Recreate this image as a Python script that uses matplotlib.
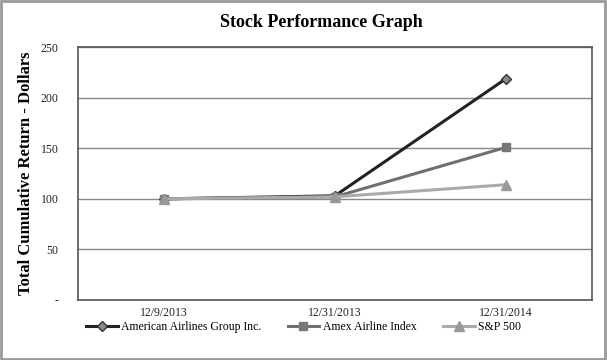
import matplotlib.pyplot as plt
from matplotlib.patches import Rectangle

dates = ["12/9/2013", "12/31/2013", "12/31/2014"]
aal = [100, 103, 219]
amex = [100, 102, 151]
sp500 = [100, 102, 114]
yticks = [0, 50, 100, 150, 200, 250]
ytick_labels = ["-", "50", "100", "150", "200", "250"]

plt.rcParams['font.family'] = ['Liberation Serif', 'DejaVu Serif']

fig = plt.figure(figsize=(6.07, 3.6), dpi=100)
fig.patches.append(Rectangle((0.002, 0.003), 0.994, 0.994, transform=fig.transFigure,
                             fill=False, edgecolor='#999999', linewidth=2))
ax = fig.add_axes([0.1285, 0.1667, 0.8465, 0.7023])

x = range(len(dates))
ax.plot(x, aal, color='#222222', linewidth=2.2, marker='D', markersize=5,
        markerfacecolor='#888888', markeredgecolor='#333333', label='American Airlines Group Inc.')
ax.plot(x, amex, color='#707070', linewidth=2.2, marker='s', markersize=6,
        markerfacecolor='#777777', markeredgecolor='#777777', label='Amex Airline Index')
ax.plot(x, sp500, color='#aaaaaa', linewidth=2.2, marker='^', markersize=7,
        markerfacecolor='#999999', markeredgecolor='#999999', label='S&P 500')

ax.set_xlim(-0.5, 2.5)
ax.set_ylim(0, 250)
ax.set_xticks(list(x))
ax.set_xticklabels(dates, fontsize=8.5)
ax.set_yticks(yticks)
ax.set_yticklabels(ytick_labels, fontsize=8.5)
ax.tick_params(length=0, colors='#222222')
ax.tick_params(axis='x', pad=5)
ax.tick_params(axis='y', pad=14)
ax.yaxis.grid(True, color='#888888', linewidth=1)
ax.set_axisbelow(True)
for s in ax.spines.values():
    s.set_color('#555555')
    s.set_linewidth(1.2)

ax.set_ylabel('Total Cumulative Return - Dollars', fontsize=12, fontweight='bold', labelpad=5)
fig.text(0.53, 0.938, 'Stock Performance Graph', ha='center', va='center',
         fontsize=13, fontweight='bold')

fig.legend(loc='center', bbox_to_anchor=(0.5, 0.092), ncol=3, frameon=False,
           fontsize=8.5, handlelength=2.7, handletextpad=0.3, columnspacing=2.2)

fig.savefig('out.png', dpi=100)
